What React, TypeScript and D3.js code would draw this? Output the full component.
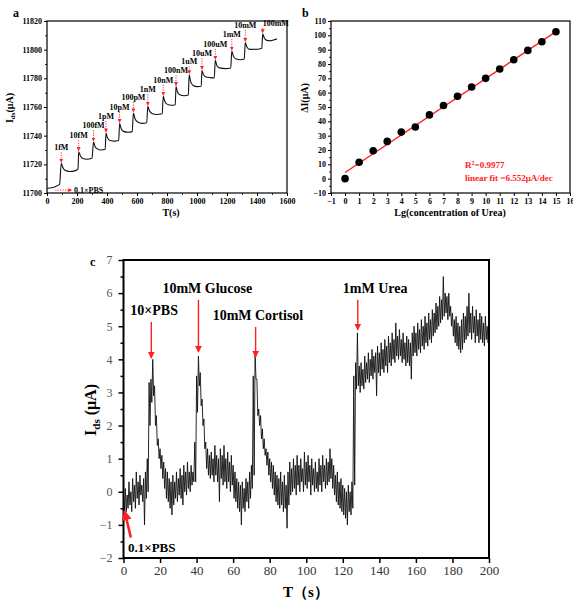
import React, { useRef, useEffect } from 'react';
import * as d3 from 'd3';

// ---- panel a: step response of Ids to urea concentration ----
const aTime = [
  0, 40, 75, 84, 95, 105, 120, 150, 190, 207,
  211, 222, 240, 265, 300,
  310, 320, 335, 360, 388,
  393, 403, 420, 450, 478,
  484, 494, 510, 540, 568,
  576, 586, 605, 635, 665,
  672, 682, 700, 730, 768,
  775, 785, 800, 830, 855,
  860, 870, 885, 915, 942,
  948, 958, 975, 1000, 1028,
  1033, 1043, 1060, 1090, 1115,
  1122, 1132, 1150, 1190, 1225,
  1232, 1242, 1260, 1290, 1315,
  1322, 1332, 1350, 1400, 1432,
  1438, 1448, 1465, 1490, 1510, 1533,
];
const aCurrent = [
  11703.3, 11703.8, 11705.5, 11706, 11720.7, 11718, 11715.8, 11715, 11715.6, 11716.8,
  11728.8, 11726, 11724, 11723.5, 11724.2,
  11735.5, 11732.5, 11730.8, 11730, 11730.5,
  11741.8, 11738.5, 11736.6, 11736.2, 11736.6,
  11748.5, 11745, 11743, 11742.4, 11742.8,
  11755.8, 11752, 11749.5, 11748.6, 11749,
  11760.5, 11757.5, 11755.5, 11754.8, 11755.3,
  11767.5, 11764, 11762, 11761.2, 11761.6,
  11774.2, 11770.5, 11768.5, 11767.8, 11768.3,
  11782.5, 11777.5, 11775, 11774.2, 11774.5,
  11785.5, 11782.5, 11781, 11780.5, 11780.3,
  11792.6, 11789, 11787.3, 11786.8, 11787.2,
  11799, 11795.5, 11793.5, 11793, 11793.5,
  11805, 11802, 11800.2, 11800.3, 11801,
  11811, 11808.3, 11806.5, 11806.2, 11806.8, 11807.5,
];
const aStepLabels = ['1fM', '10fM', '100fM', '1pM', '10pM', '100pM', '1nM', '10nM', '100nM', '1uM', '10uM', '100uM', '1mM', '10mM', '100mM'];
const aStepTime = [95, 211, 310, 393, 484, 576, 672, 775, 860, 948, 1033, 1122, 1232, 1322, 1438];
const aStepPeak = [11720.7, 11728.8, 11735.5, 11741.8, 11748.5, 11755.8, 11760.5, 11767.5, 11774.2, 11782.5, 11785.5, 11792.6, 11799, 11805, 11811];

// ---- panel b: calibration ----
const bLogConc = [0, 1, 2, 3, 4, 5, 6, 7, 8, 9, 10, 11, 12, 13, 14, 15];
const bDeltaI = [0, 11.5, 19.5, 26, 32.5, 36, 44.5, 51, 57.5, 64, 70, 76.5, 83, 89.5, 95.5, 102.5];
const bFitSlope = 6.552;
const bFitIntercept = 4.3;

// ---- panel c: selectivity, envelope of the noisy trace per second (0..200 s) ----
const cHigh = [
  -0.2, 0.1, -0.1, 0.3, 0.0, 0.4, 0.2, 0.6, 0.3, 0.5,
  0.2, 0.4, 0.6, 1.0, 3.3, 3.4, 4.0, 3.2, 2.3, 1.6,
  1.3, 1.1, 0.9, 0.7, 0.6, 0.4, 0.3, 0.5, 0.3, 0.6,
  0.4, 0.7, 0.5, 0.8, 0.6, 0.9, 0.6, 0.8, 0.6, 1.5,
  3.5, 4.1, 3.6, 2.8, 2.2, 1.5, 1.3, 1.1, 1.2, 1.0,
  1.4, 1.1, 1.0, 1.3, 1.1, 1.4, 1.0, 1.2, 0.9, 1.1,
  0.8, 0.6, 0.4, 0.3, 0.2, 0.3, 0.1, 0.4, 0.3, 0.6,
  0.8, 3.5, 4.2, 3.4, 2.5, 2.3, 1.9, 1.6, 1.3, 1.2,
  1.0, 0.9, 0.8, 0.6, 0.5, 0.4, 0.6, 0.3, 0.5, 0.2,
  0.6, 0.9, 0.7, 1.0, 0.8, 1.1, 0.8, 1.0, 0.7, 1.2,
  0.9, 1.1, 0.8, 1.0, 0.7, 0.9, 0.6, 1.0, 0.8, 1.1,
  0.8, 1.0, 0.9, 1.3, 1.0, 0.8, 0.5, 0.6, 0.3, 0.4,
  0.2, 0.1, 0.0, 0.2, 0.0, 0.3, 3.5, 3.9, 4.8, 3.8,
  3.9, 3.7, 4.1, 3.9, 4.2, 4.0, 4.3, 4.1, 4.2, 4.4,
  4.2, 4.5, 4.3, 4.6, 4.4, 4.7, 4.5, 4.8, 4.6, 5.1,
  4.7, 4.9, 4.6, 4.8, 4.5, 4.7, 4.6, 4.5, 4.8, 5.0,
  4.8, 5.1, 4.9, 5.2, 5.0, 5.3, 5.1, 5.4, 5.2, 5.5,
  5.4, 5.7, 5.6, 5.9, 5.8, 6.5, 6.0, 5.9, 6.0, 5.6,
  5.4, 5.2, 5.3, 5.1, 5.0, 5.2, 5.4, 5.3, 5.6, 6.0,
  5.4, 5.6, 5.3, 5.5, 5.2, 5.4, 5.3, 5.1, 5.3, 5.0,
  5.2,
];
const cLow = [
  -0.7, -0.6, -0.5, -0.4, -0.6, -0.3, -0.5, -0.2, -0.4, -0.1,
  -0.3, -1.0, -0.2, 0.0, 2.0, 2.7, 2.9, 2.0, 1.4, 1.0,
  0.7, 0.4, 0.1, -0.2, -0.3, -0.5, -0.7, -0.4, -0.2, -0.3,
  -0.1, -0.2, -0.4, 0.0, -0.1, 0.1, 0.0, 0.2, 0.3, 0.3,
  2.4, 3.2, 2.6, 2.0, 1.3, 0.7, 0.5, 0.4, 0.5, 0.3,
  0.5, 0.3, -0.3, 0.4, 0.2, 0.3, 0.1, 0.3, 0.0, 0.2,
  -0.2, -0.3, -0.5, -0.6, -1.0, -0.5, -0.6, -0.3, -0.5, -0.2,
  0.1, 0.5, 3.4, 2.3, 2.0, 1.6, 1.3, 1.1, 0.8, 0.5,
  0.3, 0.1, -0.1, -0.3, -0.4, -0.5, -0.4, -0.6, -0.5, -1.1,
  -0.4, -0.1, 0.0, 0.1, -0.1, 0.2, 0.0, 0.3, 0.0, 0.2,
  0.1, 0.3, -0.1, 0.2, 0.0, 0.1, 0.0, 0.2, 0.0, 0.3,
  0.1, 0.2, 0.3, 0.4, 0.1, -0.1, -0.3, -0.4, -0.5, -0.6,
  -0.7, -0.8, -1.0, -0.6, -0.7, -0.5, 0.2, 3.1, 3.2, 3.0,
  3.2, 3.1, 3.3, 3.4, 3.3, 3.5, 3.4, 3.6, 2.9, 3.6,
  3.5, 3.7, 3.6, 3.8, 3.6, 3.9, 3.8, 4.0, 3.9, 4.1,
  4.0, 4.1, 3.9, 4.0, 3.8, 3.9, 3.8, 3.4, 4.1, 4.2,
  4.1, 4.3, 4.2, 4.4, 4.3, 4.5, 4.4, 4.6, 4.5, 4.7,
  4.8, 4.9, 5.0, 5.1, 5.2, 5.3, 5.4, 5.2, 5.3, 5.0,
  4.7, 4.5, 4.4, 4.3, 4.2, 4.3, 4.5, 4.6, 4.7, 4.8,
  4.6, 4.8, 4.5, 4.7, 4.5, 4.6, 4.5, 4.4, 4.6, 4.5,
  4.6,
];
const cEventLabels = ['10×PBS', '10mM Glucose', '10mM Cortisol', '1mM Urea'];
const cEventTime = [15.2, 41, 72.3, 128.2];
const cArrowTip = [4.04, 4.22, 4.07, 4.89];
const cArrowTail = [5.13, 5.8, 4.98, 5.8];

// layout: gap (px) between label baseline and peak in panel a, text offset from arrow in panel c
const aLabelGap = [13, 13.5, 14, 14, 13.5, 13, 14, 13.5, 13.5, 10.5, 14, 13.5, 14, 14.5, 8];
const cLabelDx = [-21, -36, -43, -15];

const SERIF = '"Liberation Serif", "Times New Roman", serif';
const RED = '#ff2020';

const App = () => {
  const svgRef = useRef(null);

  useEffect(() => {
    const svg = d3.select(svgRef.current);
    svg.selectAll('*').remove();

    const defs = svg.append('defs');
    const marker = (id, w, h) => defs.append('marker')
      .attr('id', id)
      .attr('viewBox', '0 0 10 10')
      .attr('refX', 9).attr('refY', 5)
      .attr('markerWidth', w).attr('markerHeight', h)
      .attr('markerUnits', 'userSpaceOnUse')
      .attr('orient', 'auto')
      .append('path').attr('d', 'M0,0L10,5L0,10Z').attr('fill', RED);
    marker('headSmall', 4, 4);
    marker('headBig', 7, 8);
    marker('headThick', 11, 10);

    const styleAxis = (g, size, color = '#000', bold = true, width = 1) => {
      g.selectAll('text')
        .attr('font-family', SERIF)
        .attr('font-size', size)
        .attr('font-weight', bold ? 'bold' : 'normal')
        .attr('fill', color);
      g.selectAll('line').attr('stroke', '#000').attr('stroke-width', width);
      g.select('.domain').remove();
    };

    // ================= panel a =================
    const ax = d3.scaleLinear().domain([0, 1600]).range([47, 287]);
    const ay = d3.scaleLinear().domain([11700, 11820]).range([193, 21]);
    const ga = svg.append('g');

    ga.append('g').attr('transform', 'translate(0,193)')
      .call(d3.axisBottom(ax).tickValues(d3.range(100, 1600, 200)).tickSize(1.8).tickFormat(() => ''))
      .call((g) => styleAxis(g, 8));
    ga.append('g').attr('transform', 'translate(0,193)')
      .call(d3.axisBottom(ax).tickValues(d3.range(0, 1601, 200)).tickSize(3).tickPadding(2).tickFormat(d3.format('d')))
      .call((g) => styleAxis(g, 8));
    ga.append('g').attr('transform', 'translate(47,0)')
      .call(d3.axisLeft(ay).tickValues(d3.range(11710, 11820, 20)).tickSize(1.8).tickFormat(() => ''))
      .call((g) => styleAxis(g, 8));
    ga.append('g').attr('transform', 'translate(47,0)')
      .call(d3.axisLeft(ay).tickValues(d3.range(11700, 11821, 20)).tickSize(3).tickPadding(2).tickFormat(d3.format('d')))
      .call((g) => styleAxis(g, 8));
    ga.append('rect').attr('x', 47).attr('y', 21).attr('width', 240).attr('height', 172)
      .attr('fill', 'none').attr('stroke', '#000').attr('stroke-width', 1.2);

    const aLine = d3.line()
      .x((d) => ax(d[0]))
      .y((d) => ay(d[1]))
      .curve(d3.curveMonotoneX);
    ga.append('path')
      .attr('d', aLine(aTime.map((t, i) => [t, aCurrent[i]])))
      .attr('fill', 'none').attr('stroke', '#111').attr('stroke-width', 1.1);

    aStepLabels.forEach((lab, i) => {
      const x = ax(aStepTime[i]);
      const yPeak = ay(aStepPeak[i]);
      const base = yPeak - aLabelGap[i];
      const last = i === aStepLabels.length - 1;
      ga.append('line')
        .attr('x1', x).attr('x2', x)
        .attr('y1', base + 2).attr('y2', yPeak - 1)
        .attr('stroke', RED).attr('stroke-width', 0.9)
        .attr('stroke-dasharray', '1.2,1.2')
        .attr('marker-end', 'url(#headSmall)');
      ga.append('text')
        .attr('x', x)
        .attr('y', base)
        .attr('text-anchor', last ? 'start' : 'middle')
        .attr('font-family', SERIF).attr('font-size', 8).attr('font-weight', 'bold')
        .text(lab);
    });

    ga.append('line')
      .attr('x1', ax(55)).attr('x2', ax(165))
      .attr('y1', ay(11702)).attr('y2', ay(11702))
      .attr('stroke', RED).attr('stroke-width', 0.9)
      .attr('stroke-dasharray', '1.2,1.2')
      .attr('marker-end', 'url(#headSmall)');
    ga.append('text').attr('x', 74).attr('y', 193)
      .attr('font-family', SERIF).attr('font-size', 8).attr('font-weight', 'bold')
      .text('0.1×PBS');

    ga.append('text').attr('x', 171).attr('y', 216).attr('text-anchor', 'middle')
      .attr('font-family', SERIF).attr('font-size', 10).attr('font-weight', 'bold')
      .text('T(s)');
    const aYl = ga.append('text').attr('transform', 'translate(13,108) rotate(-90)')
      .attr('text-anchor', 'middle')
      .attr('font-family', SERIF).attr('font-size', 10).attr('font-weight', 'bold');
    aYl.append('tspan').text('I');
    aYl.append('tspan').attr('font-size', 7).attr('dy', 2).text('ds');
    aYl.append('tspan').attr('dy', -2).text('(μA)');
    ga.append('text').attr('x', 13).attr('y', 17)
      .attr('font-family', SERIF).attr('font-size', 12).attr('font-weight', 'bold').text('a');

    // ================= panel b =================
    const bx = d3.scaleLinear().domain([-1, 16]).range([331, 570]);
    const by = d3.scaleLinear().domain([-10, 110]).range([193, 21]);
    const gb = svg.append('g');

    gb.append('g').attr('transform', 'translate(0,193)')
      .call(d3.axisBottom(bx).tickValues(d3.range(-1, 17, 1)).tickSize(3).tickPadding(2))
      .call((g) => styleAxis(g, 8));
    gb.append('g').attr('transform', 'translate(331,0)')
      .call(d3.axisLeft(by).tickValues(d3.range(-5, 110, 10)).tickSize(1.8).tickFormat(() => ''))
      .call((g) => styleAxis(g, 8));
    gb.append('g').attr('transform', 'translate(331,0)')
      .call(d3.axisLeft(by).tickValues(d3.range(-10, 111, 10)).tickSize(3).tickPadding(2))
      .call((g) => styleAxis(g, 8));
    gb.append('rect').attr('x', 331).attr('y', 21).attr('width', 239).attr('height', 172)
      .attr('fill', 'none').attr('stroke', '#000').attr('stroke-width', 1.2);

    gb.append('line')
      .attr('x1', bx(0)).attr('y1', by(bFitIntercept))
      .attr('x2', bx(15)).attr('y2', by(bFitIntercept + bFitSlope * 15))
      .attr('stroke', RED).attr('stroke-width', 1.4);
    gb.selectAll('circle').data(bLogConc).enter().append('circle')
      .attr('cx', (d) => bx(d))
      .attr('cy', (d, i) => by(bDeltaI[i]))
      .attr('r', 3.8)
      .attr('fill', '#000');

    const r2 = gb.append('text').attr('x', 465).attr('y', 168)
      .attr('font-family', SERIF).attr('font-size', 9).attr('font-weight', 'bold').attr('fill', RED);
    r2.append('tspan').text('R');
    r2.append('tspan').attr('font-size', 6).attr('dy', -3).text('2');
    r2.append('tspan').attr('dy', 3).text('=0.9977');
    gb.append('text').attr('x', 465).attr('y', 181)
      .attr('font-family', SERIF).attr('font-size', 9).attr('font-weight', 'bold').attr('fill', RED)
      .text('linear fit =6.552μA/dec');

    gb.append('text').attr('x', 450).attr('y', 216).attr('text-anchor', 'middle')
      .attr('font-family', SERIF).attr('font-size', 10).attr('font-weight', 'bold')
      .text('Lg(concentration of Urea)');
    gb.append('text').attr('transform', 'translate(308,98) rotate(-90)')
      .attr('text-anchor', 'middle')
      .attr('font-family', SERIF).attr('font-size', 10).attr('font-weight', 'bold')
      .text('ΔI(μA)');
    gb.append('text').attr('x', 302).attr('y', 17)
      .attr('font-family', SERIF).attr('font-size', 12).attr('font-weight', 'bold').text('b');

    // ================= panel c =================
    const cx = d3.scaleLinear().domain([0, 200]).range([123.5, 489]);
    const cy = d3.scaleLinear().domain([-2, 7]).range([558, 260]);
    const gc = svg.append('g');

    gc.append('g').attr('transform', 'translate(0,558)')
      .call(d3.axisBottom(cx).tickValues(d3.range(0, 201, 20)).tickSize(5).tickPadding(3))
      .call((g) => styleAxis(g, 13, '#333', false, 1.5));
    gc.append('g').attr('transform', 'translate(123.5,0)')
      .call(d3.axisLeft(cy).tickValues(d3.range(-1.5, 7, 1)).tickSize(3).tickFormat(() => ''))
      .call((g) => styleAxis(g, 12, '#555', false, 1.5));
    gc.append('g').attr('transform', 'translate(123.5,0)')
      .call(d3.axisLeft(cy).tickValues(d3.range(-2, 7.1, 1)).tickSize(5).tickPadding(6).tickFormat(d3.format('d')))
      .call((g) => styleAxis(g, 12, '#555', false, 1.5));

    const cPts = [];
    cHigh.forEach((h, i) => {
      cPts.push([i, h]);
      if (i < 200) cPts.push([i + 0.5, cLow[i]]);
    });
    const cLine = d3.line().x((d) => cx(d[0])).y((d) => cy(d[1]));
    gc.append('path')
      .attr('d', cLine(cPts))
      .attr('fill', 'none').attr('stroke', '#111').attr('stroke-width', 0.9);

    gc.append('rect').attr('x', 123.5).attr('y', 260).attr('width', 365.5).attr('height', 298)
      .attr('fill', 'none').attr('stroke', '#000').attr('stroke-width', 2);

    cEventLabels.forEach((lab, i) => {
      const x = cx(cEventTime[i]);
      const yTail = cy(cArrowTail[i]);
      gc.append('line')
        .attr('x1', x).attr('x2', x)
        .attr('y1', yTail).attr('y2', cy(cArrowTip[i]))
        .attr('stroke', RED).attr('stroke-width', 1.4)
        .attr('marker-end', 'url(#headBig)');
      gc.append('text')
        .attr('x', x + cLabelDx[i]).attr('y', yTail - 7)
        .attr('font-family', SERIF).attr('font-size', 14).attr('font-weight', 'bold')
        .text(lab);
    });

    gc.append('line')
      .attr('x1', cx(4)).attr('y1', cy(-1.38))
      .attr('x2', cx(0.6)).attr('y2', cy(-0.58))
      .attr('stroke', RED).attr('stroke-width', 2.6)
      .attr('marker-end', 'url(#headThick)');
    gc.append('text').attr('x', 128).attr('y', 552)
      .attr('font-family', SERIF).attr('font-size', 13).attr('font-weight', 'bold')
      .text('0.1×PBS');

    gc.append('text').attr('x', 306).attr('y', 597).attr('text-anchor', 'middle')
      .attr('font-family', SERIF).attr('font-size', 15).attr('font-weight', 'bold')
      .text('T（s）');
    const cYl = gc.append('text').attr('transform', 'translate(96,410) rotate(-90)')
      .attr('text-anchor', 'middle')
      .attr('font-family', SERIF).attr('font-size', 16).attr('font-weight', 'bold');
    cYl.append('tspan').text('I');
    cYl.append('tspan').attr('font-size', 11).attr('dy', 4).text('ds');
    cYl.append('tspan').attr('dy', -4).text(' (μA)');
    gc.append('text').attr('x', 90).attr('y', 266)
      .attr('font-family', SERIF).attr('font-size', 12).attr('font-weight', 'bold').text('c');
  }, []);

  return (
    <svg ref={svgRef} width={573} height={600}
      style={{ position: 'absolute', left: 0, top: 0, background: '#fff' }} />
  );
};

export default App;
